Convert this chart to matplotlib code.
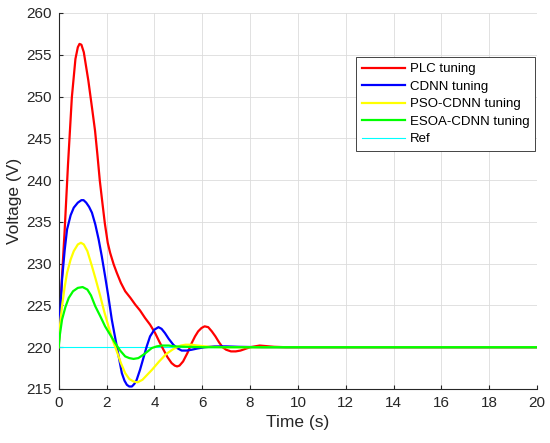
import matplotlib
matplotlib.use("Agg")
import matplotlib.pyplot as plt
import numpy as np

plt.rcParams['font.family'] = ['Liberation Sans', 'DejaVu Sans']

# values (time in s, voltage in V)
t_plc = [0, 0.05, 0.1, 0.15, 0.25, 0.39, 0.55, 0.7, 0.8, 0.87, 0.95, 1.05, 1.24, 1.4, 1.52, 1.62, 1.72, 1.83,
         1.93, 2.05, 2.15, 2.3, 2.43, 2.6, 2.78, 3.0, 3.2, 3.4, 3.61, 3.82, 4.03, 4.2, 4.38, 4.55, 4.72, 4.85,
         4.95, 5.05, 5.2, 5.38, 5.56, 5.7, 5.83, 5.97, 6.1, 6.25, 6.4, 6.55, 6.7, 6.85, 7.0, 7.2, 7.4, 7.6,
         7.8, 8.0, 8.2, 8.4, 8.6, 8.8, 9.0, 9.5, 10, 12, 20]
v_plc = [220, 223.5, 226.5, 229, 234, 241.9, 249.9, 254.5, 255.9, 256.3, 256.2, 255.3, 251.9, 248.5, 245.9, 243, 239.9,
         237.2, 234.8, 232.5, 231.3, 229.9, 228.9, 227.7, 226.7, 225.9, 225.1, 224.4, 223.5, 222.7, 221.7, 220.7,
         219.7, 218.8, 218.1, 217.8, 217.7, 217.8, 218.3, 219.3, 220.5, 221.3, 221.9, 222.3, 222.5, 222.4, 221.9,
         221.3, 220.6, 220.0, 219.7, 219.5, 219.5, 219.6, 219.8, 220.0, 220.1, 220.2, 220.15, 220.1, 220.05, 220.0,
         220, 220, 220]

t_cdnn = [0, 0.05, 0.14, 0.25, 0.35, 0.5, 0.63, 0.8, 0.95, 1.04, 1.15, 1.27, 1.39, 1.53, 1.67, 1.8, 1.94, 2.08,
          2.22, 2.33, 2.43, 2.54, 2.64, 2.75, 2.85, 2.95, 3.06, 3.16, 3.26, 3.4, 3.54, 3.68, 3.82, 4.0, 4.17,
          4.3, 4.44, 4.6, 4.79, 4.95, 5.14, 5.35, 5.56, 5.8, 6.1, 6.5, 7.0, 7.5, 8.5, 10, 20]
v_cdnn = [220, 223.5, 228.1, 231.6, 234.1, 235.8, 236.7, 237.3, 237.6, 237.6, 237.3, 236.8, 236.1, 234.7, 232.9, 230.9,
          228.5, 226, 223.3, 221.6, 220.1, 218.4, 216.9, 216, 215.5, 215.3, 215.3, 215.6, 216.1, 217.3, 218.7,
          220.1, 221.3, 222.1, 222.4, 222.2, 221.7, 221, 220.3, 219.9, 219.6, 219.6, 219.7, 219.85, 220.0, 220.1,
          220.1, 220.05, 220.0, 220, 220]

t_pso = [0, 0.05, 0.14, 0.25, 0.35, 0.5, 0.63, 0.8, 0.93, 1.05, 1.2, 1.39, 1.55, 1.74, 1.9, 2.08, 2.25, 2.43, 2.6,
         2.78, 2.95, 3.13, 3.3, 3.5, 3.7, 3.9, 4.2, 4.5, 4.8, 5.1, 5.3, 5.55, 5.8, 6.3, 7.0, 8, 10, 20]
v_pso = [220, 222.5, 224.9, 227.2, 228.9, 230.5, 231.5, 232.3, 232.5, 232.3, 231.5, 229.7, 228.1, 226.1, 224.3, 222.5,
         220.9, 219.5, 218.1, 216.9, 216.2, 215.9, 215.8, 216.1, 216.7, 217.3, 218.3, 219.2, 219.8, 220.2, 220.3,
         220.3, 220.2, 220.05, 220, 220, 220, 220]

t_esoa = [0, 0.05, 0.14, 0.28, 0.42, 0.6, 0.8, 1.0, 1.2, 1.35, 1.53, 1.74, 1.94, 2.15, 2.36, 2.57, 2.78, 2.95, 3.13,
          3.33, 3.54, 3.72, 3.89, 4.1, 4.31, 4.6, 4.86, 5.3, 6, 8, 10, 20]
v_esoa = [220, 221.5, 223.3, 224.8, 225.9, 226.7, 227.1, 227.2, 226.9, 226.2, 224.9, 223.7, 222.5, 221.5, 220.5, 219.6,
          218.9, 218.7, 218.6, 218.7, 219.1, 219.5, 219.9, 220.1, 220.2, 220.2, 220.1, 220.05, 220, 220, 220, 220]

t_ref = [0, 20]
v_ref = [220, 220]

fig = plt.figure(figsize=(5.5, 4.43), dpi=100)
ax = fig.add_axes([0.1067, 0.1219, 0.870, 0.8488])

ax.plot(t_ref, v_ref, color='#00ffff', lw=0.8, zorder=1)
ax.plot(t_plc, v_plc, color='#ff0000', lw=1.6, label='PLC tuning', zorder=2)
ax.plot(t_cdnn, v_cdnn, color='#0000ff', lw=1.6, label='CDNN tuning', zorder=3)
ax.plot(t_pso, v_pso, color='#ffff00', lw=1.6, label='PSO-CDNN tuning', zorder=4)
ax.plot(t_esoa, v_esoa, color='#00ff00', lw=1.6, label='ESOA-CDNN tuning', zorder=5)

# legend order with Ref last
h, l = ax.get_legend_handles_labels()
ref_handle = plt.Line2D([], [], color='#00ffff', lw=0.8)
leg = ax.legend(h + [ref_handle], l + ['Ref'], loc='upper left', bbox_to_anchor=(0.621, 0.883),
                fontsize=9.5, handlelength=3.3, handletextpad=0.35, borderpad=0.45, labelspacing=0.4,
                fancybox=False, framealpha=1, edgecolor='#262626', borderaxespad=0)
leg.get_frame().set_linewidth(0.6)
for txt in leg.get_texts():
    txt.set_color('#000000')

ax.set_xlim(0, 20)
ax.set_ylim(215, 260)
ax.set_xticks(np.arange(0, 21, 2))
ax.set_yticks(np.arange(215, 261, 5))
ax.grid(True, color='#dcdcdc', lw=0.6)
ax.set_axisbelow(True)
for s in ['top', 'right']:
    ax.spines[s].set_visible(False)
for s in ['left', 'bottom']:
    ax.spines[s].set_color('#262626')
    ax.spines[s].set_linewidth(0.8)
ax.tick_params(direction='in', length=3, width=0.8, colors='#262626', labelsize=11, pad=5)
ax.set_xlabel('Time (s)', fontsize=12.5, color='#262626', labelpad=4)
ax.set_ylabel('Voltage (V)', fontsize=12.5, color='#262626', labelpad=3)

fig.savefig('out.png', dpi=100)
